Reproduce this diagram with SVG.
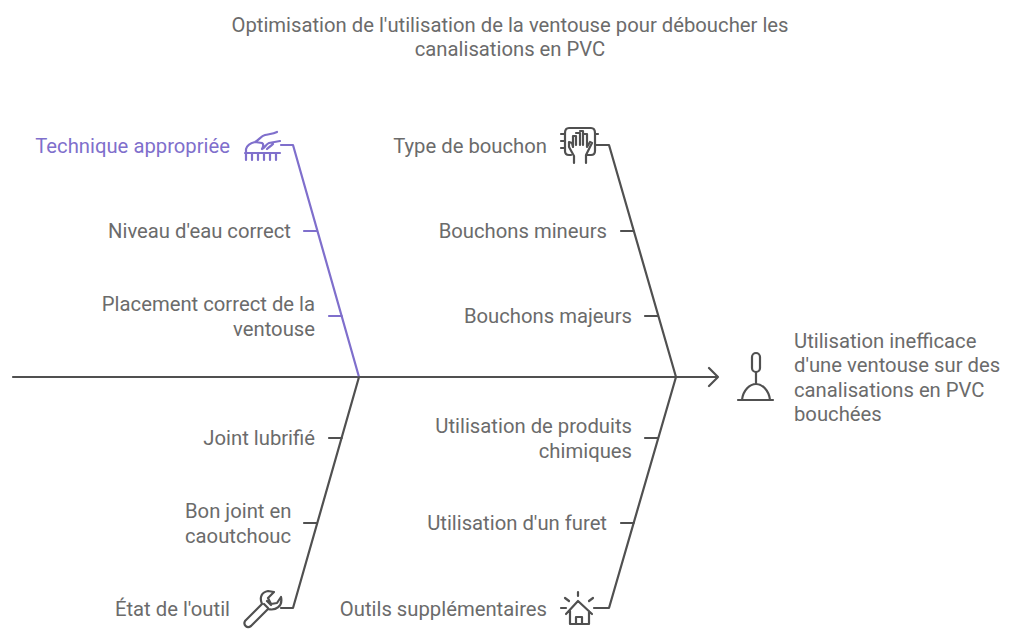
<svg xmlns="http://www.w3.org/2000/svg" width="1024" height="640" viewBox="0 0 1024 640">
<style>
text{font-family:"Roboto","Liberation Sans",sans-serif;font-size:20.25px;fill:#6b6b6b}
.e{text-anchor:end}.m{text-anchor:middle}
.c,.i{fill:none;stroke:#505050;stroke-width:2.2;stroke-linecap:round;stroke-linejoin:round}
.p{stroke:#7f6fcc}
text.v{fill:#7f6fcc}
</style>
<rect width="1024" height="640" fill="#ffffff"/>
<g id="title"><text class="m" x="510" y="32">Optimisation de l'utilisation de la ventouse pour déboucher les</text><text class="m" x="510" y="56">canalisations en PVC</text></g>
<g id="connectors">
<path class="c" d="M13 377H718M709 368L718 377L709 386"/>
<path class="c p" d="M281 145H293L359 377M304 231H317M329 316H342"/>
<path class="c" d="M596 145H609L676 377M621 231H634M645 316H658"/>
<path class="c" d="M359 377L293 608H281M329 438H342M304 523H317"/>
<path class="c" d="M676 377L609 608H594M645 438H658M621 523H634"/>
</g>
<g id="n1"><text class="v e" x="230" y="153">Technique appropriée</text>
<path class="i p" d="M245 153H280M246 153V160M252 153V160M258 153V160M264 153V160M270 153V160M276 153V160M246 152V149C247 145 251 143 255 142C259 140 261 136 265 135C269 134 273 134 277 132M255 142L262 143C264 144 263 147 262 149M262 149C265 148 266 144 269 143L280 141M267 149C269 147 271 146 273 144"/></g>
<g id="n2"><text class="e" x="291" y="238">Niveau d'eau correct</text></g>
<g id="n3"><text class="e" x="315" y="311">Placement correct de la</text><text class="e" x="315" y="336">ventouse</text></g>
<g id="n4"><text class="e" x="547" y="153">Type de bouchon</text>
<path class="i" d="M571 155H569C566 155 565 153 565 151V133C565 130 566 128 569 128H591C594 128 595 130 595 133V151C595 153 594 155 591 155H587M561 134H565M561 141H565M561 148H565M595 134H598M595 145H598M574 163V156L569 147V142L572 143L573 147V136H576V145M576 133H580V145M580 131H583V145M583 134H587V147L590 142L592 143L586 155V163"/></g>
<g id="n5"><text class="e" x="607" y="238">Bouchons mineurs</text></g>
<g id="n6"><text class="e" x="632" y="323">Bouchons majeurs</text></g>
<g id="n7"><text class="e" x="315" y="445">Joint lubrifié</text></g>
<g id="n8"><text x="185" y="518">Bon joint en</text><text x="185" y="543">caoutchouc</text></g>
<g id="n9"><text class="e" x="230" y="616">État de l'outil</text>
<path class="i" d="M245 621L262 604C259 597 262 592 268 591L274 592L268 598L271 604L277 603L281 597C283 606 276 611 268 609L251 626C247 629 243 625 245 621ZM267 601L271 605M264 604L268 608"/></g>
<g id="n10"><text class="e" x="632" y="433">Utilisation de produits</text><text class="e" x="632" y="458">chimiques</text></g>
<g id="n11"><text class="e" x="607" y="530">Utilisation d'un furet</text></g>
<g id="n12"><text class="e" x="547" y="616">Outils supplémentaires</text>
<path class="i" d="M566 614L578 601L592 614M570 611V624H589V611M576 624V617H582V624M578 592V596M565 598L569 601M593 598L589 601M561 608H566"/></g>
<g id="n13">
<text x="794" y="348">Utilisation inefficace</text><text x="794" y="372">d'une ventouse sur des</text><text x="794" y="397">canalisations en PVC</text><text x="794" y="421">bouchées</text>
<path class="i" d="M738 400H773M742 400C743 390 750 384 756 384C762 384 769 390 770 400M756 384V372"/><rect class="i" x="752" y="353" width="8" height="19" rx="4"/>
</g>
</svg>
